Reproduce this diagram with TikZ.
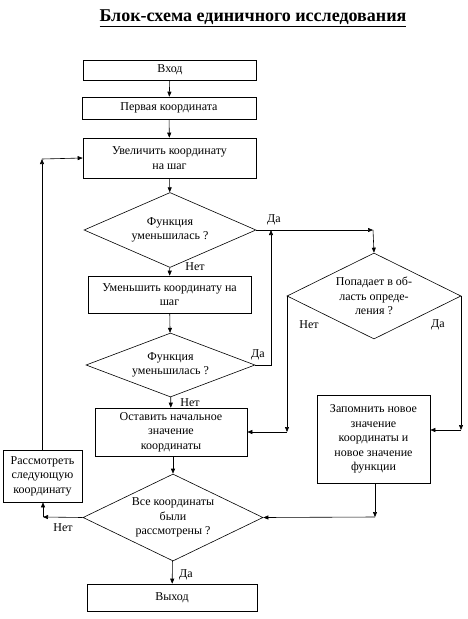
\documentclass[tikz,border=0pt]{standalone}
\usepackage{fontspec}
\setmainfont{Liberation Serif}
\usetikzlibrary{shapes.geometric,arrows.meta}
\tikzset{
  block/.style={draw,rectangle,inner sep=0pt,align=center,font=\fontsize{12}{14.5}\selectfont},
  cond/.style={draw,diamond,inner sep=0pt,align=center,font=\fontsize{12}{14.5}\selectfont},
  lbl/.style={inner sep=1pt,font=\fontsize{12}{14.5}\selectfont},
}
\begin{document}
\begin{tikzpicture}[x=1pt,y=-1pt,line width=0.6pt,>={Triangle[length=5pt,width=4pt]}]
      \useasboundingbox (0,0) rectangle (467,619);
      \node (title) at (253,18) {\fontsize{18}{21}\selectfont\bfseries\underline{Блок-схема единичного исследования}};
      \draw
        (170,70) node[block,minimum width=173,minimum height=20] (in){Вход}
        (169,108) node[block,minimum width=174,minimum height=22] (first){Первая координата}
        (169.5,158) node[block,minimum width=173,minimum height=40] (inc){Увеличить координату\\на шаг}
        (170,230) node[cond,minimum width=172,minimum height=75,aspect=2.3] (d1){Функция\\уменьшилась ?}
        (169.5,294.5) node[block,minimum width=163,minimum height=37] (dec){Уменьшить координату на\\шаг}
        (170.5,365) node[cond,minimum width=169,minimum height=64,aspect=2.6] (d3){Функция\\уменьшилась ?}
        (171,432) node[block,minimum width=152,minimum height=48] (keep){Оставить начальное\\значение\\координаты}
        (374,296) node[cond,minimum width=174,minimum height=86,aspect=2] (d2){Попадает в об-\\ласть опреде-\\ления ?}
        (373.5,439) node[block,minimum width=113,minimum height=88] (save){Запомнить новое\\значение\\координаты и\\новое значение\\функции}
        (173,517.5) node[cond,minimum width=180,minimum height=87,aspect=2.1] (d4){Все координаты\\были\\рассмотрены ?}
        (42.5,476) node[block,minimum width=79,minimum height=52] (next){Рассмотреть\\следующую\\координату}
        (172,597.5) node[block,minimum width=170,minimum height=27] (out){Выход};
      \coordinate (c1) at (373,230);
      \coordinate (c2) at (271,230);
      \coordinate (c3) at (287,432);
      \coordinate (c4) at (461,430);
      \coordinate (c5) at (375,517);
      \coordinate (c6) at (43,517);
      \coordinate (c7) at (42,159);
      \begin{scope}[->]
        \draw (in) to (first);
        \draw (first) to (inc);
        \draw (inc) to (d1);
        \draw (d1) to (dec);
        \draw (dec) to (d3);
        \draw (d3) to (keep);
        \draw (d1.east) to (c1);
        \draw (c1) to (d2.north);
        \draw (d3.east) -| (c2);
        \draw (d2.west) -| (c3);
        \draw (c3) to (keep.east);
        \draw (d2.east) -| (c4);
        \draw (c4) to (save.east |- c4);
        \draw (save.south -| c5) to (c5);
        \draw (c5) to (d4.east);
        \draw (keep.south -| d4.north) to (d4.north);
        \draw (d4.west) to (c6);
        \draw (c6) to (next.south -| c6);
        \draw (next.north -| c7) to (c7);
        \draw (c7) to (inc.west);
        \draw (d4) to (out);
      \end{scope}
      \node[lbl] (yes1) at (274,220) {Да};
      \node[lbl] (no1) at (195,267) {Нет};
      \node[lbl] (yes3) at (258,355) {Да};
      \node[lbl] (no3) at (190,403) {Нет};
      \node[lbl] (no2) at (309,325) {Нет};
      \node[lbl] (yes2) at (438,325) {Да};
      \node[lbl] (no4) at (63,528) {Нет};
      \node[lbl] (yes4) at (186,575) {Да};
    \end{tikzpicture}
\end{document}
